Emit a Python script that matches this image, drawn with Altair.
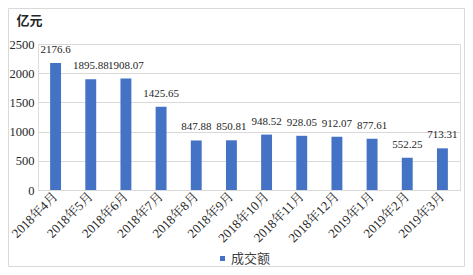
import altair as alt
import pandas as pd

months = ["2018年4月", "2018年5月", "2018年6月", "2018年7月", "2018年8月", "2018年9月",
          "2018年10月", "2018年11月", "2018年12月", "2019年1月", "2019年2月", "2019年3月"]
values = [2176.6, 1895.88, 1908.07, 1425.65, 847.88, 850.81,
          948.52, 928.05, 912.07, 877.61, 552.25, 713.31]
series_name = "成交额"
unit_title = "亿元"
y_ticks = [0, 500, 1000, 1500, 2000, 2500]

df = pd.DataFrame({
    "month": months,
    "value": values,
    "label": [str(v) for v in values],
    "series": [series_name] * len(months),
})

SERIF = "Liberation Serif, Times New Roman, Noto Serif CJK SC, Noto Sans CJK SC"
BLUE = "#4472C4"
GRID = "#D9D9D9"

W, H = 422, 146
PL, PT, PR, PB = 30, 36, 5, 77

xenc = alt.X("month:N", sort=months, title=None,
             scale=alt.Scale(paddingInner=0.69, paddingOuter=0.345),
             axis=alt.Axis(labelAngle=-45, labelAlign="right", labelBaseline="middle",
                           labelFont=SERIF, labelFontSize=13, labelColor="#262626",
                           labelPadding=4, ticks=False, domainColor=GRID, grid=False,
                           labelOverlap=False))

yenc = alt.Y("value:Q", title=None,
             scale=alt.Scale(domain=[0, 2500], nice=False),
             axis=alt.Axis(values=y_ticks, tickCount=6, format="d", labelFont=SERIF,
                           labelFontSize=12.5, labelColor="#262626", labelPadding=4,
                           ticks=False, domain=False, grid=True, gridColor=GRID,
                           labelOverlap=False, labelFlush=False, labelBound=False))

base = alt.Chart(df)

bars = base.mark_bar(color=BLUE).encode(
    x=xenc,
    y=yenc,
    color=alt.Color("series:N", scale=alt.Scale(range=[BLUE]),
                    legend=alt.Legend(title=None, orient="none", legendX=178, legendY=208,
                                      symbolType="square", symbolSize=25,
                                      symbolStrokeWidth=0, labelFont="Noto Sans CJK SC",
                                      labelFontSize=13, labelColor="#404040",
                                      labelOffset=2, padding=0)),
)

labels = base.mark_text(baseline="bottom", dy=-8, font=SERIF, fontSize=11,
                        color="#262626").encode(
    x=xenc,
    y=yenc,
    text="label:N",
)

title_df = pd.DataFrame({"t": [unit_title]})
title = alt.Chart(title_df).mark_text(font="Noto Sans CJK SC", fontSize=13,
                                      fontWeight="bold", color="#262626",
                                      align="center", baseline="middle").encode(
    x=alt.value(-8.5), y=alt.value(-23.5), text="t:N")

border = alt.Chart(title_df).mark_rect(fill=None, stroke=GRID, strokeWidth=1,
                                       clip=False).encode(
    x=alt.value(-PL + 0.5), x2=alt.value(W + PR - 0.5),
    y=alt.value(-PT + 0.5), y2=alt.value(H + PB - 0.5))

chart = alt.layer(border, bars, labels, title).properties(
    width=W, height=H,
    autosize=alt.AutoSizeParams(type="none"),
    padding={"left": PL, "top": PT, "right": PR, "bottom": PB},
).configure_view(stroke=None).configure(background="white")

chart.save("out.html", embed_options={"renderer": "svg", "actions": False})
